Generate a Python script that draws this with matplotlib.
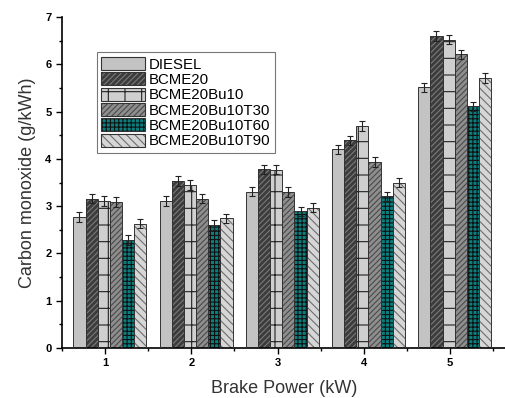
import numpy as np
import matplotlib
matplotlib.use('Agg')
import matplotlib.pyplot as plt
from matplotlib.patches import Patch
from matplotlib.ticker import MultipleLocator

plt.rcParams['font.family'] = ['Liberation Sans', 'DejaVu Sans']
plt.rcParams['hatch.linewidth'] = 0.8

# data
power = [1, 2, 3, 4, 5]
fuels = ['DIESEL', 'BCME20', 'BCME20Bu10', 'BCME20Bu10T30', 'BCME20Bu10T60', 'BCME20Bu10T90']
diesel = [2.77, 3.11, 3.31, 4.20, 5.51]
bcme20 = [3.16, 3.53, 3.78, 4.39, 6.60]
bu10 = [3.11, 3.45, 3.77, 4.70, 6.52]
t30 = [3.09, 3.16, 3.30, 3.93, 6.21]
t60 = [2.28, 2.60, 2.89, 3.21, 5.11]
t90 = [2.63, 2.74, 2.97, 3.50, 5.71]
err = 0.1

series = [diesel, bcme20, bu10, t30, t60, t90]
# face colour, hatch colour, hatch
styles = [('#c3c3c3', '#c3c3c3', None),
          ('#3c3c3c', '#7a7a7a', '//////'),
          ('#cfcfcf', '#222222', '+'),
          ('#8e8e8e', '#4a4a4a', '//////'),
          ('#0b7f7f', '#111111', '++++'),
          ('#d6d6d6', '#6e6e6e', '\\\\\\\\')]

fig = plt.figure(figsize=(5.06, 3.98), dpi=100)
ax = fig.add_axes([0.1225, 0.1256, 0.8775, 0.8316])

w = 0.141
x = np.array(power) + 0.055
handles = []
for i, (vals, (fc, hc, hatch)) in enumerate(zip(series, styles)):
    xi = x + (i - 2.5) * w
    ax.bar(xi, vals, w, color=fc, edgecolor=hc, hatch=hatch, linewidth=0, zorder=2)
    ax.bar(xi, vals, w, fill=False, edgecolor='#333333', linewidth=0.7, zorder=3)
    ax.errorbar(xi, vals, yerr=err, fmt='none', ecolor='#222222', elinewidth=0.8,
                capsize=2.5, capthick=0.8, zorder=4)
    h1 = Patch(facecolor=fc, edgecolor=hc, hatch=hatch, linewidth=0)
    h2 = Patch(fill=False, edgecolor='#333333', linewidth=0.8)
    handles.append((h1, h2))

ax.set_xlim(0.5, 5.65)
ax.set_ylim(0, 7)
ax.set_xticks(power)
ax.xaxis.set_minor_locator(MultipleLocator(0.5))
ax.yaxis.set_major_locator(MultipleLocator(1))
ax.yaxis.set_minor_locator(MultipleLocator(0.5))
ax.tick_params(which='major', direction='out', length=4, width=1, labelsize=8)
ax.tick_params(which='minor', direction='out', length=2.5, width=1)
for lab in ax.get_xticklabels() + ax.get_yticklabels():
    lab.set_fontweight('bold')
ax.spines['top'].set_visible(False)
ax.spines['right'].set_visible(False)
ax.spines['left'].set_linewidth(1.2)
ax.spines['bottom'].set_linewidth(1.2)

ax.set_xlabel('Brake Power (kW)', fontsize=13, color='#333333', labelpad=8)
ax.set_ylabel('Carbon monoxide (g/kWh)', fontsize=13, color='#333333', labelpad=7)

leg = ax.legend(handles, fuels, loc='upper left', bbox_to_anchor=(0.078, 0.893),
                fontsize=10.8, frameon=True, fancybox=False, edgecolor='#555555',
                handlelength=2.9, handleheight=0.95, handletextpad=0.3,
                labelspacing=0.05, borderpad=0.3, borderaxespad=0)
leg.get_frame().set_linewidth(0.8)

plt.savefig('out.png', dpi=100)
